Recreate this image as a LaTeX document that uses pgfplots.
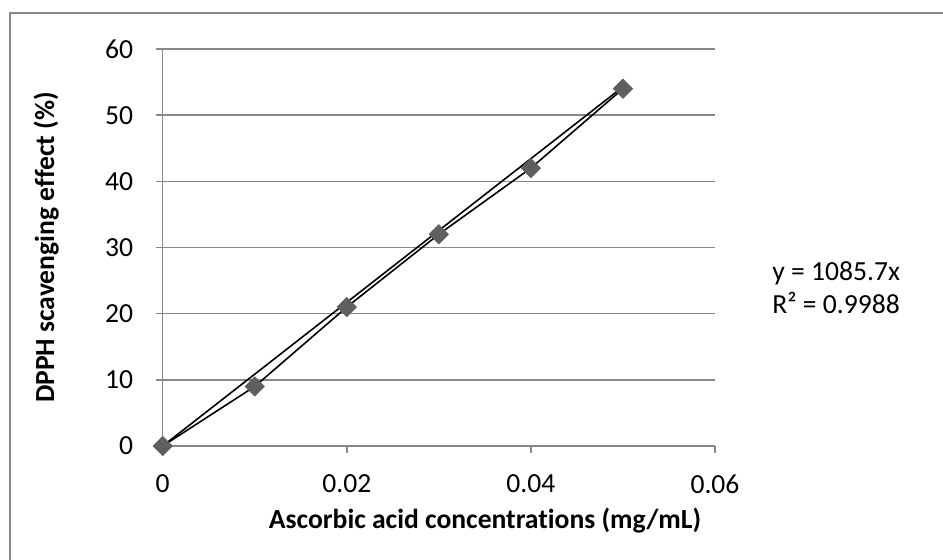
\documentclass[border=0pt]{standalone}
\usepackage{fontspec}
\setmainfont{Carlito}[Ligatures=CommonOff]
\usepackage{pgfplots}
\pgfplotsset{compat=1.18}
\definecolor{gridgray}{HTML}{888888}
\definecolor{markgray}{HTML}{5F5F5F}
\begin{document}
\fontsize{13.8}{16}\selectfont
\begin{tikzpicture}
\useasboundingbox (0,0) rectangle (471.5pt,279.5pt);
\begin{scope}
  \clip (0,0) rectangle (471.5pt,279.5pt);
  \draw[gridgray, line width=0.75pt] (5pt,-20pt) rectangle (500pt,273pt);
\end{scope}
\begin{axis}[
  at={(81.35pt,56.5pt)}, anchor=south west,
  scale only axis,
  width=276.15pt, height=198.5pt,
  xmin=0, xmax=0.06, ymin=0, ymax=60,
  axis lines*=left,
  axis line style={-, gridgray, line width=0.75pt},
  xtick={0,0.02,0.04,0.06},
  xticklabels={0,0.02,0.04,0.06},
  scaled x ticks=false,
  ytick={0,10,20,30,40,50,60},
  tick align=outside,
  major tick length=3.5pt,
  tick style={gridgray, line width=0.75pt},
  ymajorgrids,
  grid style={gridgray, line width=0.75pt},
  /pgf/number format/assume math mode=true,
  xticklabel style={yshift=-6pt},
  yticklabel style={xshift=-6.5pt},
  xlabel={\bfseries Ascorbic acid concentrations (mg/mL)},
  xlabel style={at={(axis description cs:0.5836,-0.189)}, anchor=center},
  ylabel={\bfseries DPPH scavenging effect (\%)},
  ylabel style={at={(axis description cs:-0.211,0.5)}, anchor=center, rotate=0},
  clip=false,
]
\addplot[black, line width=0.8pt, mark=square*,
  mark size=3.2pt,
  mark options={markgray, draw=markgray, fill=markgray, rotate=45}]
  coordinates {(0,0) (0.01,9) (0.02,21) (0.03,32) (0.04,42) (0.05,54)};
\addplot[black, line width=0.8pt, no marks]
  coordinates {(0,0) (0.05,54.285)};
\node[anchor=west, inner sep=0pt] at (axis description cs:1.1032,0.4358) {y = 1085.7x};
\node[anchor=west, inner sep=0pt] at (axis description cs:1.1032,0.3602) {R² = 0.9988};
\end{axis}
\end{tikzpicture}
\end{document}
